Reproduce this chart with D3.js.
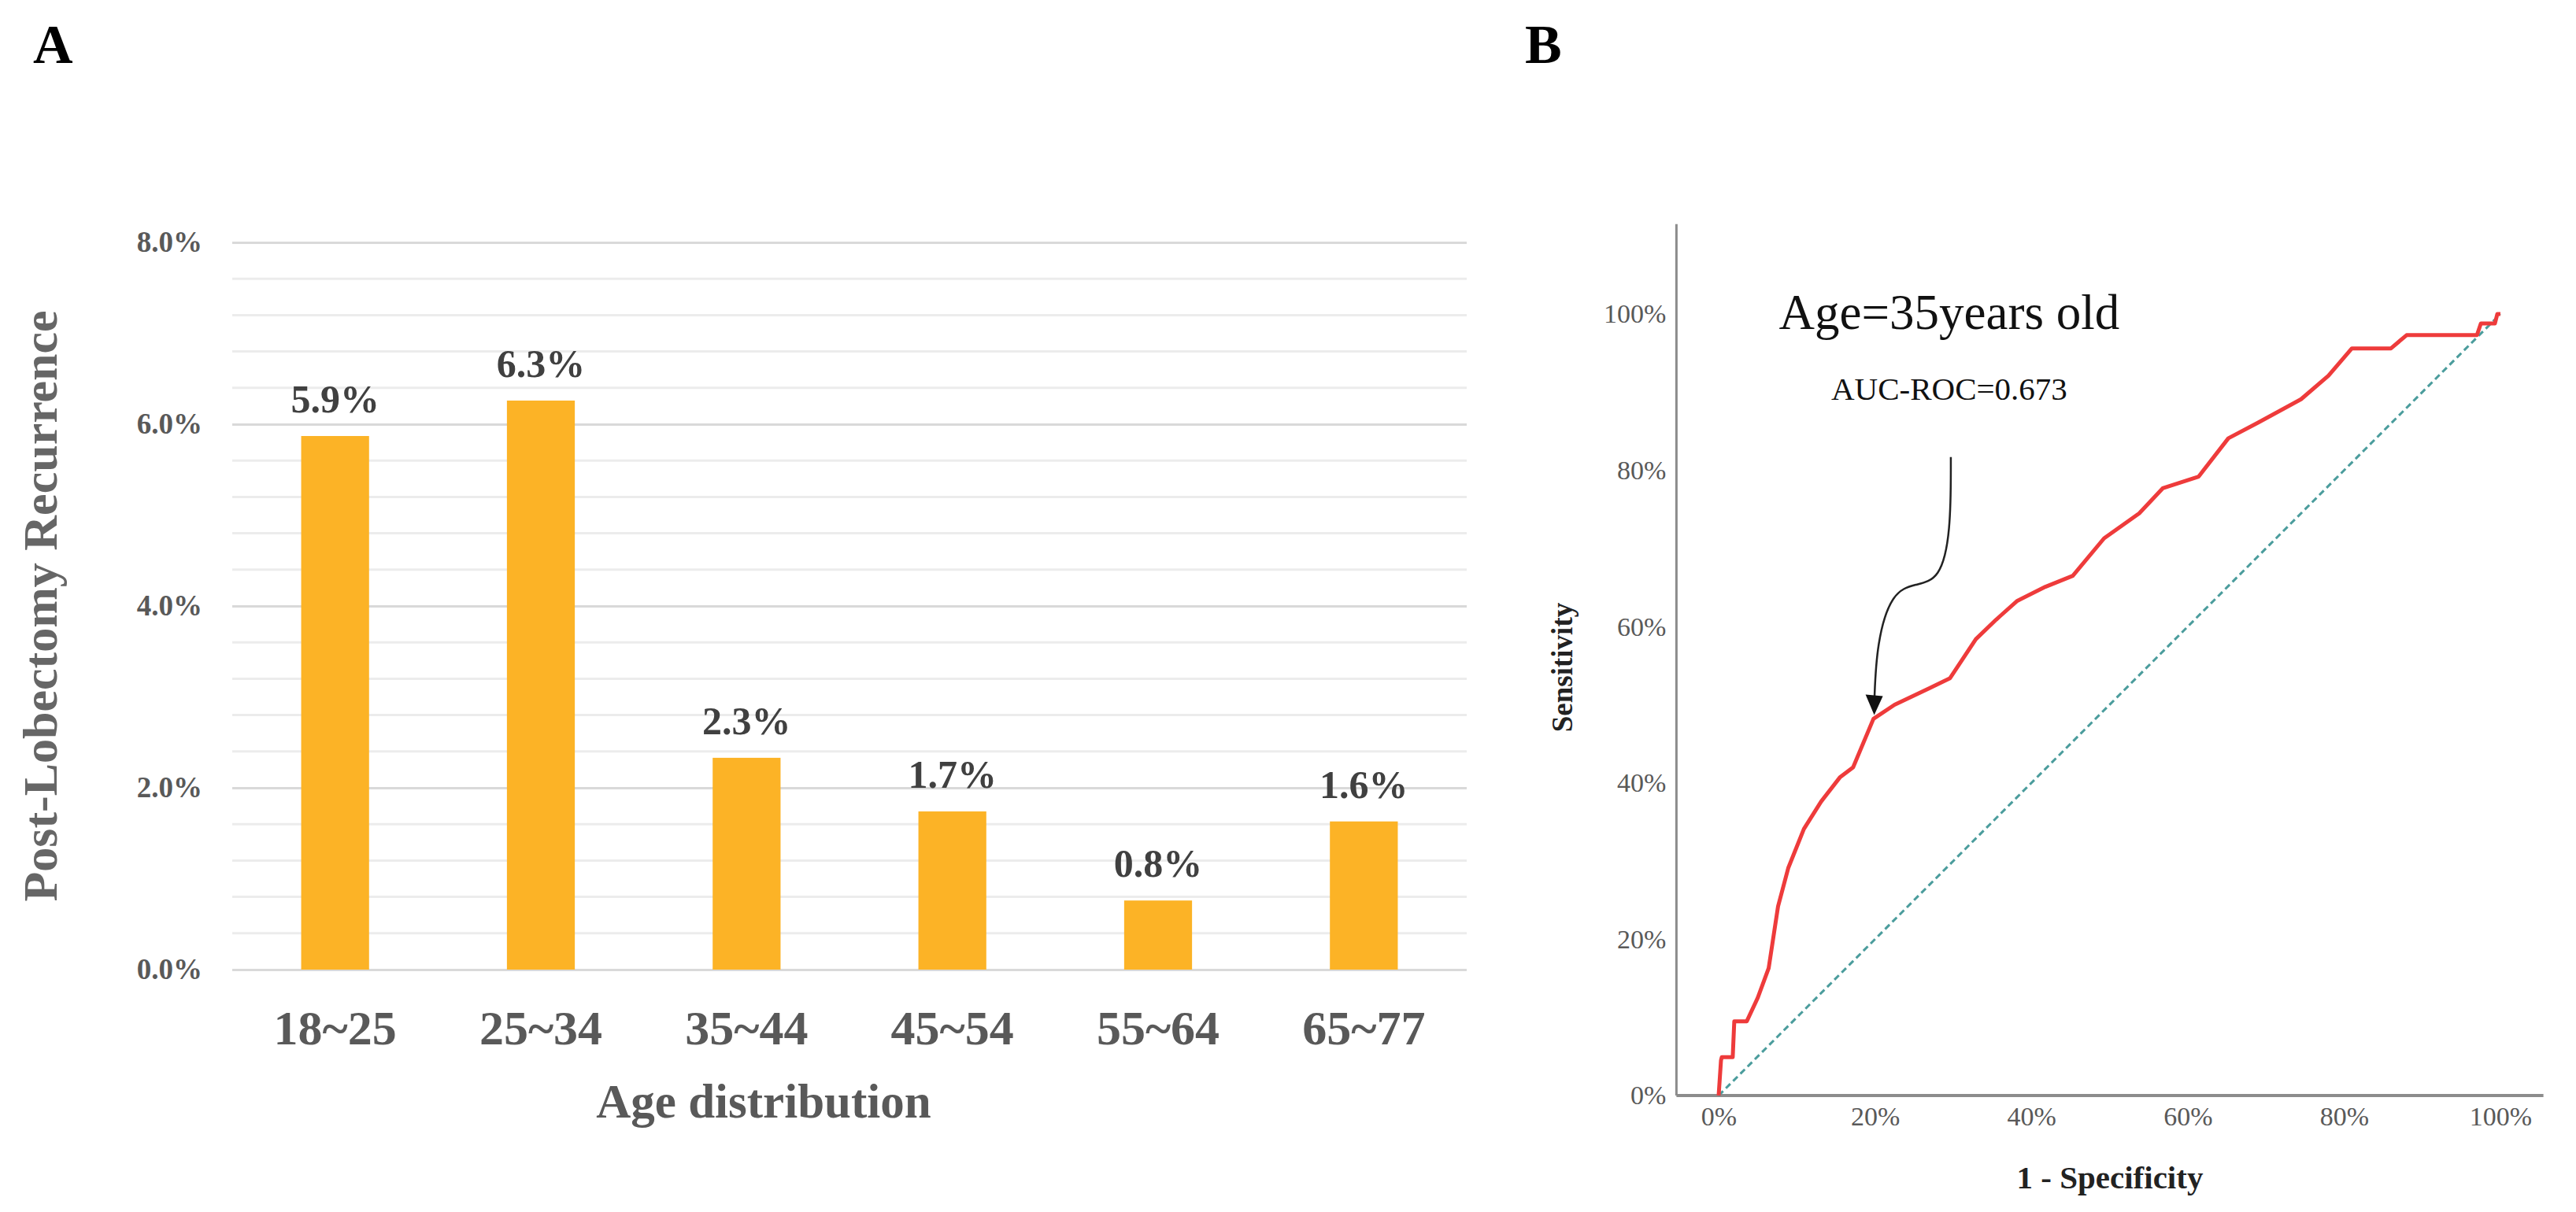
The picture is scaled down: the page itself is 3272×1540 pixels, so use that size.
<!DOCTYPE html>
<html>
<head>
<meta charset="utf-8">
<script src="https://cdn.jsdelivr.net/npm/d3@7/dist/d3.min.js"></script>
<style>
  html, body { margin: 0; padding: 0; background: #fff; }
  svg { display: block; }
</style>
</head>
<body>
<svg id="chart" width="3272" height="1540" viewBox="0 0 3272 1540"></svg>
<script>
// ---------------- DATA ----------------
const ageGroups = ["18~25", "25~34", "35~44", "45~54", "55~64", "65~77"];
const recurrence = [5.87, 6.26, 2.33, 1.74, 0.76, 1.63];   // percent
const barTicks = [0, 2, 4, 6, 8];                        // percent
const barMinorStep = 0.4;

const rocFpr  = [0, 0.003, 0.004, 0.018, 0.020, 0.036, 0.050, 0.064, 0.076, 0.089, 0.109, 0.131, 0.155, 0.172, 0.198, 0.225, 0.269, 0.296, 0.329, 0.355, 0.382, 0.418, 0.453, 0.493, 0.538, 0.568, 0.614, 0.652, 0.690, 0.745, 0.780, 0.810, 0.860, 0.880, 0.970, 0.975, 0.993, 0.996, 1.0];
const rocSens = [0, 0.045, 0.049, 0.049, 0.095, 0.095, 0.125, 0.163, 0.242, 0.291, 0.341, 0.376, 0.407, 0.420, 0.482, 0.500, 0.521, 0.534, 0.584, 0.609, 0.633, 0.651, 0.665, 0.713, 0.745, 0.777, 0.792, 0.841, 0.861, 0.891, 0.921, 0.956, 0.956, 0.973, 0.973, 0.988, 0.988, 1.0, 1.0];
const rocTicks = [0, 0.2, 0.4, 0.6, 0.8, 1.0];
const refLine = [[0, 0], [1, 1]];
// annotation arrow path (data units: fpr, sensitivity)
const arrowPts = [[0.297, 0.817], [0.297, 0.72], [0.283, 0.66], [0.252, 0.654], [0.222, 0.645], [0.202, 0.58], [0.199, 0.50]];
const arrowTip = [0.199, 0.487];

const serif = "'Liberation Serif', 'Times New Roman', serif";
const svg = d3.select("#chart");

// ---------------- PANEL A ----------------
const A = { left: 295, right: 1863, top: 308, bottom: 1232 };
const xA = d3.scaleBand().domain(ageGroups).range([A.left, A.right]).paddingInner(0.67).paddingOuter(0.335);
const yA = d3.scaleLinear().domain([0, 8]).range([A.bottom, A.top]);

svg.append("text").attr("x", 42).attr("y", 80).text("A")
  .attr("font-family", serif).attr("font-weight", "bold").attr("font-size", 70).attr("fill", "#000");

// minor gridlines
const minor = d3.range(0, 8.0001, barMinorStep).filter(v => !barTicks.some(t => Math.abs(t - v) < 1e-6));
svg.append("g").selectAll("line").data(minor).join("line")
  .attr("x1", A.left).attr("x2", A.right)
  .attr("y1", d => yA(d)).attr("y2", d => yA(d))
  .attr("stroke", "#ececec").attr("stroke-width", 3);

// major gridlines via axis
const yAxisA = d3.axisLeft(yA).tickValues(barTicks).tickSize(-(A.right - A.left)).tickPadding(38)
  .tickFormat(d => d.toFixed(1) + "%");
const gA = svg.append("g").attr("transform", `translate(${A.left},0)`).call(yAxisA);
gA.select(".domain").remove();
gA.selectAll(".tick line").attr("stroke", "#d9d9d9").attr("stroke-width", 3);
gA.selectAll(".tick text").attr("font-family", serif).attr("font-weight", "bold")
  .attr("font-size", 37).attr("fill", "#595959");

// bars
svg.append("g").selectAll("rect").data(ageGroups).join("rect")
  .attr("x", d => xA(d)).attr("width", xA.bandwidth())
  .attr("y", (d, i) => yA(recurrence[i]))
  .attr("height", (d, i) => yA(0) - yA(recurrence[i]))
  .attr("fill", "#FCB326");

// value labels
svg.append("g").selectAll("text").data(ageGroups).join("text")
  .attr("x", d => xA(d) + xA.bandwidth() / 2)
  .attr("y", (d, i) => yA(recurrence[i]) - 30)
  .attr("text-anchor", "middle")
  .attr("font-family", serif).attr("font-weight", "bold").attr("font-size", 50).attr("fill", "#404040")
  .text((d, i) => recurrence[i].toFixed(1) + "%");

// category axis
const xAxisA = d3.axisBottom(xA).tickSize(0).tickPadding(0);
const gxA = svg.append("g").attr("transform", `translate(0,${A.bottom})`).call(xAxisA);
gxA.select(".domain").remove();
gxA.selectAll(".tick text").attr("dy", 0).attr("y", 95)
  .attr("font-family", serif).attr("font-weight", "bold").attr("font-size", 62).attr("fill", "#595959");

svg.append("text").attr("x", 970).attr("y", 1420).attr("text-anchor", "middle")
  .attr("font-family", serif).attr("font-weight", "bold").attr("font-size", 61).attr("fill", "#595959")
  .text("Age distribution");

svg.append("text").attr("transform", "translate(72,770) rotate(-90)").attr("text-anchor", "middle")
  .attr("font-family", serif).attr("font-weight", "bold").attr("font-size", 62).attr("fill", "#666")
  .text("Post-Lobectomy Recurrence");

// ---------------- PANEL B ----------------
const xB = d3.scaleLinear().domain([0, 1]).range([2183, 3176]);
const yB = d3.scaleLinear().domain([0, 1]).range([1392, 399]);
const xAxisExtent = [-0.054, 1.055];
const yAxisTop = 1.115;

svg.append("text").attr("x", 1937).attr("y", 80).text("B")
  .attr("font-family", serif).attr("font-weight", "bold").attr("font-size", 70).attr("fill", "#000");

// axis lines
svg.append("line").attr("x1", xB(xAxisExtent[0])).attr("x2", xB(xAxisExtent[0]))
  .attr("y1", yB(0)).attr("y2", yB(yAxisTop)).attr("stroke", "#8c8c8c").attr("stroke-width", 3);
svg.append("line").attr("x1", xB(xAxisExtent[0])).attr("x2", xB(xAxisExtent[1]))
  .attr("y1", yB(0)).attr("y2", yB(0)).attr("stroke", "#8c8c8c").attr("stroke-width", 4);

const pct = d3.format(".0%");
// y ticks
const gyB = svg.append("g").attr("transform", `translate(${xB(xAxisExtent[0])},0)`)
  .call(d3.axisLeft(yB).tickValues(rocTicks).tickSize(0).tickPadding(13).tickFormat(pct));
gyB.select(".domain").remove();
gyB.selectAll(".tick text").attr("font-family", serif).attr("font-size", 34).attr("fill", "#595959");
// x ticks
const gxB = svg.append("g").attr("transform", `translate(0,${yB(0)})`)
  .call(d3.axisBottom(xB).tickValues(rocTicks).tickSize(0).tickPadding(14).tickFormat(pct));
gxB.select(".domain").remove();
gxB.selectAll(".tick text").attr("font-family", serif).attr("font-size", 34).attr("fill", "#595959");

// axis titles
svg.append("text").attr("x", 2680).attr("y", 1510).attr("text-anchor", "middle")
  .attr("font-family", serif).attr("font-weight", "bold").attr("font-size", 41).attr("fill", "#222")
  .text("1 - Specificity");
svg.append("text").attr("transform", "translate(1997,848) rotate(-90)").attr("text-anchor", "middle")
  .attr("font-family", serif).attr("font-weight", "bold").attr("font-size", 37).attr("fill", "#222")
  .text("Sensitivity");

// reference diagonal
svg.append("path").datum(refLine)
  .attr("d", d3.line().x(d => xB(d[0])).y(d => yB(d[1])))
  .attr("fill", "none").attr("stroke", "#4a9c9c").attr("stroke-width", 3).attr("stroke-dasharray", "8,5");

// ROC curve
svg.append("path").datum(rocFpr.map((f, i) => [f, rocSens[i]]))
  .attr("d", d3.line().x(d => xB(d[0])).y(d => yB(d[1])))
  .attr("fill", "none").attr("stroke", "#EE3B3B").attr("stroke-width", 5).attr("stroke-linejoin", "round");

// annotation texts
svg.append("text").attr("x", xB(0.295)).attr("y", 418).attr("text-anchor", "middle")
  .attr("font-family", serif).attr("font-size", 63).attr("fill", "#111")
  .text("Age=35years old");
svg.append("text").attr("x", xB(0.295)).attr("y", 508).attr("text-anchor", "middle")
  .attr("font-family", serif).attr("font-size", 41).attr("fill", "#111")
  .text("AUC-ROC=0.673");

// arrow
svg.append("path").datum(arrowPts)
  .attr("d", d3.line().x(d => xB(d[0])).y(d => yB(d[1])).curve(d3.curveBasis))
  .attr("fill", "none").attr("stroke", "#222").attr("stroke-width", 2.5);
const tx = xB(arrowTip[0]), ty = yB(arrowTip[1]);
svg.append("path")
  .attr("d", `M${tx},${ty} L${tx - 11},${ty - 26} L${tx + 11},${ty - 24} Z`)
  .attr("fill", "#111");
</script>
</body>
</html>
